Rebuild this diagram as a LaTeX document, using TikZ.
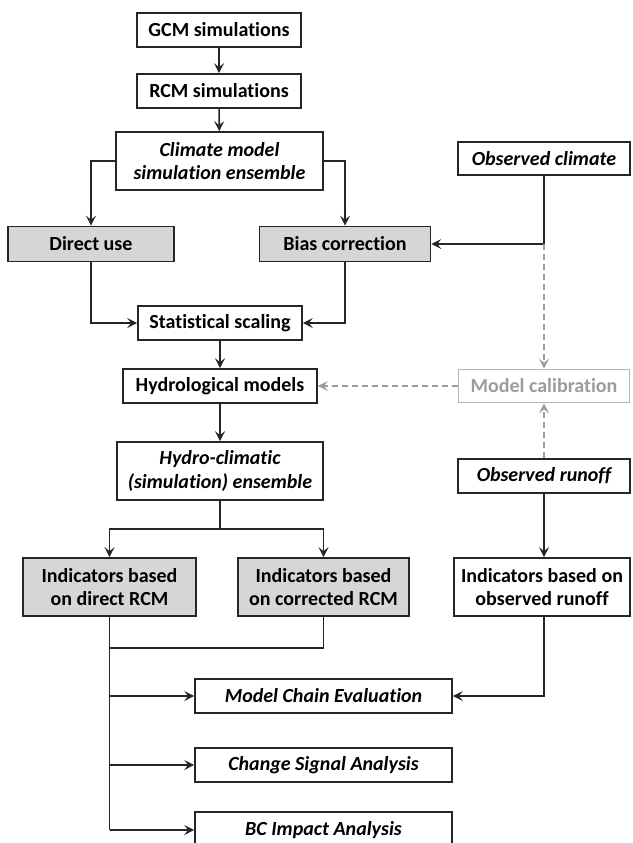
\documentclass[tikz,border=0pt]{standalone}
\usepackage{fontspec}
\setmainfont{Carlito}[Ligatures=NoCommon]
\usetikzlibrary{arrows.meta}
\definecolor{ln}{HTML}{262626}
\definecolor{fillg}{HTML}{D6D6D6}
\definecolor{lg}{HTML}{9C9C9C}
\begin{document}
\begin{tikzpicture}[x=1pt,y=-1pt,
  wh/.style 2 args={minimum width=#1pt, minimum height=#2pt},
  box/.style={draw=ln, line width=1.6pt, fill=white, inner sep=0pt, align=center,
    font=\fontsize{20}{23.5}\selectfont\bfseries},
  ibox/.style={box, font=\fontsize{20}{23.5}\selectfont\bfseries\itshape},
  gbox/.style={box, fill=fillg},
  calbox/.style={box, draw=lg!75, text=lg},
  conn/.style={line width=1.6pt, draw=ln},
  arr/.style={conn, -{Stealth[length=10pt,width=10pt,inset=4pt]}},
  darr/.style={line width=1.6pt, draw=lg, dash pattern=on 6pt off 4pt,
    -{Stealth[length=10pt,width=10pt,inset=4pt]}}
]
\useasboundingbox[fill=white] (0,0) rectangle (632,843);

\node[box, wh={164}{34}] (gcm) at (219,30) {GCM simulations};
\node[box, wh={164}{34}] (rcm) at (219,91) {RCM simulations};
\node[ibox, wh={207}{58}] (clim) at (219.5,161) {Climate model\\simulation ensemble};
\node[ibox, wh={172}{33}] (obsc) at (544,158.5) {Observed climate};
\node[gbox, wh={166}{35}] (direct) at (91,244) {Direct use};
\node[gbox, wh={171}{35}] (bias) at (345,244) {Bias correction};
\node[box, wh={164}{34}] (stat) at (220,323) {Statistical scaling};
\node[box, wh={194}{34}] (hydro) at (220,386) {Hydrological models};
\node[calbox, wh={171}{33}] (calib) at (544,386) {Model calibration};
\node[ibox, wh={206}{58}] (hcl) at (220,471) {Hydro-climatic\\(simulation) ensemble};
\node[ibox, wh={172}{34}] (obsr) at (544,476) {Observed runoff};
\node[gbox, wh={173}{58}] (inddir) at (109.5,587) {Indicators based\\on direct RCM};
\node[gbox, wh={171}{58}] (indcor) at (323.5,587) {Indicators based\\on corrected RCM};
\node[box, wh={176}{58}] (indobs) at (542,587) {Indicators based on\\observed runoff};
\node[ibox, wh={257}{34}] (mce) at (323.5,696) {Model Chain Evaluation};
\node[ibox, wh={257}{34}] (csa) at (323.5,765) {Change Signal Analysis};
\node[ibox, wh={257}{36}] (bci) at (323.5,830) {BC Impact Analysis};

% top chain
\draw[arr] (gcm) -- (rcm);
\draw[arr] (rcm) -- (clim);
\draw[arr] (clim.west) -| (direct.north);
\draw[arr] (clim.east) -| (bias.north);
\draw[arr] (obsc.south) |- (bias.east);
\draw[arr] (direct.south) |- (stat.west);
\draw[arr] (bias.south) |- (stat.east);
\draw[arr] (stat) -- (hydro);

% calibration (dashed)
\coordinate (oc) at (obsc.south |- bias.east);
\draw[darr] (oc) -- (calib.north);
\draw[darr] (obsr.north) -- (calib.south);
\draw[darr] (calib.west) -- (hydro.east);

% hydro ensemble
\draw[arr] (hydro) -- (hcl);
\path (hcl.south) ++(0,28) coordinate (j1);
\draw[conn] (hcl.south) -- (j1);
\draw[arr] (j1) -| (inddir.north);
\draw[arr] (j1) -| (indcor.north);
\draw[arr] (obsr.south) -- (obsr.south |- indobs.north);

% bottom analyses
\coordinate (j2) at (inddir.south |- 0,648);
\draw[conn] (indcor.south) |- (j2);
\draw[conn] (inddir.south) -- (inddir.south |- bci.west);
\draw[arr] (inddir.south |- mce.west) -- (mce.west);
\draw[arr] (inddir.south |- csa.west) -- (csa.west);
\draw[arr] (inddir.south |- bci.west) -- (bci.west);
\draw[arr] (obsr.south |- indobs.south) |- (mce.east);
\end{tikzpicture}
\end{document}
